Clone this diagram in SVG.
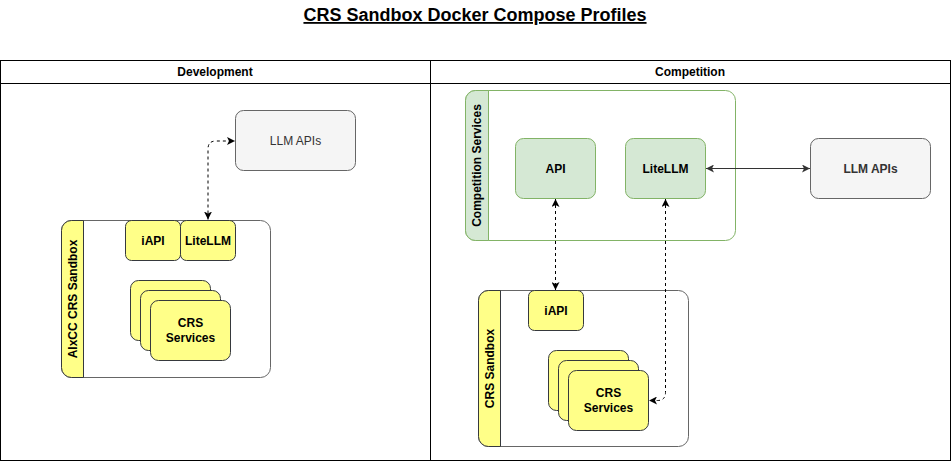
<svg xmlns="http://www.w3.org/2000/svg" width="951" height="461" viewBox="0 0 951 461">
<style>
text{font-family:"Liberation Sans",Arial,sans-serif;}
.b{font-weight:bold;font-size:12px;fill:#000;text-anchor:middle;dominant-baseline:central;}
.n{font-size:12px;fill:#333;text-anchor:middle;dominant-baseline:central;}
.y{fill:#ffff88;stroke:#36393d;stroke-width:1;}
.g{fill:#d5e8d4;stroke:#82b366;stroke-width:1;}
.gr{fill:#f5f5f5;stroke:#666;stroke-width:1;}
.c{fill:#fff;stroke:#666;stroke-width:1;}
.cg{fill:#fff;stroke:#82b366;stroke-width:1;}
.d{fill:none;stroke:#000;stroke-width:1;stroke-dasharray:3 3;}
.s{fill:none;stroke:#333;stroke-width:1;}
</style>
<defs>
<marker id="ak" viewBox="0 0 8 8" refX="8" refY="4" markerWidth="8" markerHeight="8" markerUnits="userSpaceOnUse" orient="auto-start-reverse"><path d="M0,0 L8,4 L0,8 L2,4 Z" fill="#000"/></marker>
<marker id="ag" viewBox="0 0 8 8" refX="8" refY="4" markerWidth="8" markerHeight="8" markerUnits="userSpaceOnUse" orient="auto-start-reverse"><path d="M0,0 L8,4 L0,8 L2,4 Z" fill="#333"/></marker>
</defs>
<rect width="951" height="461" fill="#fff"/>
<g id="title">
<text x="475" y="21" style="font-size:18px;font-weight:bold;text-anchor:middle;text-decoration:underline;fill:#000">CRS Sandbox Docker Compose Profiles</text>
</g>
<g id="table">
<rect x="0.5" y="60.5" width="950" height="400" fill="none" stroke="#000"/>
<line x1="0.5" y1="83.5" x2="950.5" y2="83.5" stroke="#000"/>
<line x1="430.5" y1="60.5" x2="430.5" y2="460.5" stroke="#000"/>
<text class="b" x="215" y="72">Development</text>
<text class="b" x="690" y="72">Competition</text>
</g>
<g id="dev-llm-apis">
<rect class="gr" x="235.5" y="110.5" width="120" height="60" rx="8"/>
<text class="n" x="295.5" y="140.5">LLM APIs</text>
</g>
<g id="dev-sandbox">
<rect class="c" x="61.5" y="220.5" width="209" height="157" rx="10"/>
<path class="y" d="M83.5,220.5 L71.5,220.5 A10,10 0 0 0 61.5,230.5 L61.5,367.5 A10,10 0 0 0 71.5,377.5 L83.5,377.5 Z"/>
<text class="b" transform="translate(72.5,299) rotate(-90)" x="0" y="0">AIxCC CRS Sandbox</text>
</g>
<g id="dev-iapi">
<rect class="y" x="125.5" y="220.5" width="55" height="40" rx="6"/>
<text class="b" x="153" y="240.5">iAPI</text>
</g>
<g id="dev-litellm">
<rect class="y" x="180.5" y="220.5" width="55" height="40" rx="6"/>
<text class="b" x="208" y="240.5">LiteLLM</text>
</g>
<g id="dev-crs-services">
<rect class="y" x="130.5" y="280.5" width="80" height="60" rx="8"/>
<rect class="y" x="140.5" y="290.5" width="80" height="60" rx="8"/>
<rect class="y" x="150.5" y="300.5" width="80" height="60" rx="8"/>
<text class="b" x="190.5" y="323">CRS</text>
<text class="b" x="190.5" y="338">Services</text>
</g>
<g id="comp-services">
<rect class="cg" x="465.5" y="90.5" width="270" height="150" rx="10"/>
<path class="g" d="M488.5,90.5 L475.5,90.5 A10,10 0 0 0 465.5,100.5 L465.5,230.5 A10,10 0 0 0 475.5,240.5 L488.5,240.5 Z"/>
<text class="b" transform="translate(477,165.5) rotate(-90)" x="0" y="0">Competition Services</text>
</g>
<g id="comp-api">
<rect class="g" x="515.5" y="138.5" width="80" height="60" rx="8"/>
<text class="b" x="555.5" y="168.5">API</text>
</g>
<g id="comp-litellm">
<rect class="g" x="625.5" y="138.5" width="80" height="60" rx="8"/>
<text class="b" x="665.5" y="168.5">LiteLLM</text>
</g>
<g id="comp-llm-apis">
<rect class="gr" x="810.5" y="138.5" width="120" height="60" rx="8"/>
<text class="b" x="870.5" y="168.5" style="fill:#333">LLM APIs</text>
</g>
<g id="comp-sandbox">
<rect class="c" x="478.5" y="290.5" width="210" height="156" rx="10"/>
<path class="y" d="M500.5,290.5 L488.5,290.5 A10,10 0 0 0 478.5,300.5 L478.5,436.5 A10,10 0 0 0 488.5,446.5 L500.5,446.5 Z"/>
<text class="b" transform="translate(489.5,368.5) rotate(-90)" x="0" y="0">CRS Sandbox</text>
</g>
<g id="comp-iapi">
<rect class="y" x="528.5" y="290.5" width="55" height="40" rx="6"/>
<text class="b" x="556" y="310.5">iAPI</text>
</g>
<g id="comp-crs-services">
<rect class="y" x="548.5" y="350.5" width="80" height="60" rx="8"/>
<rect class="y" x="558.5" y="360.5" width="80" height="60" rx="8"/>
<rect class="y" x="568.5" y="370.5" width="80" height="60" rx="8"/>
<text class="b" x="608.5" y="393">CRS</text>
<text class="b" x="608.5" y="408">Services</text>
</g>
<g id="connectors">
<path class="d" d="M208,219.5 L208,149 Q208,141 216,141 L235,141" marker-start="url(#ak)" marker-end="url(#ak)"/>
<path class="s" d="M706,168.5 L810,168.5" marker-start="url(#ag)" marker-end="url(#ag)"/>
<path class="d" d="M555.5,199 L555.5,290" marker-start="url(#ak)" marker-end="url(#ak)"/>
<path class="d" d="M665.5,199 L665.5,392.5 Q665.5,400.5 657.5,400.5 L649,400.5" marker-start="url(#ak)" marker-end="url(#ak)"/>
</g>
</svg>
